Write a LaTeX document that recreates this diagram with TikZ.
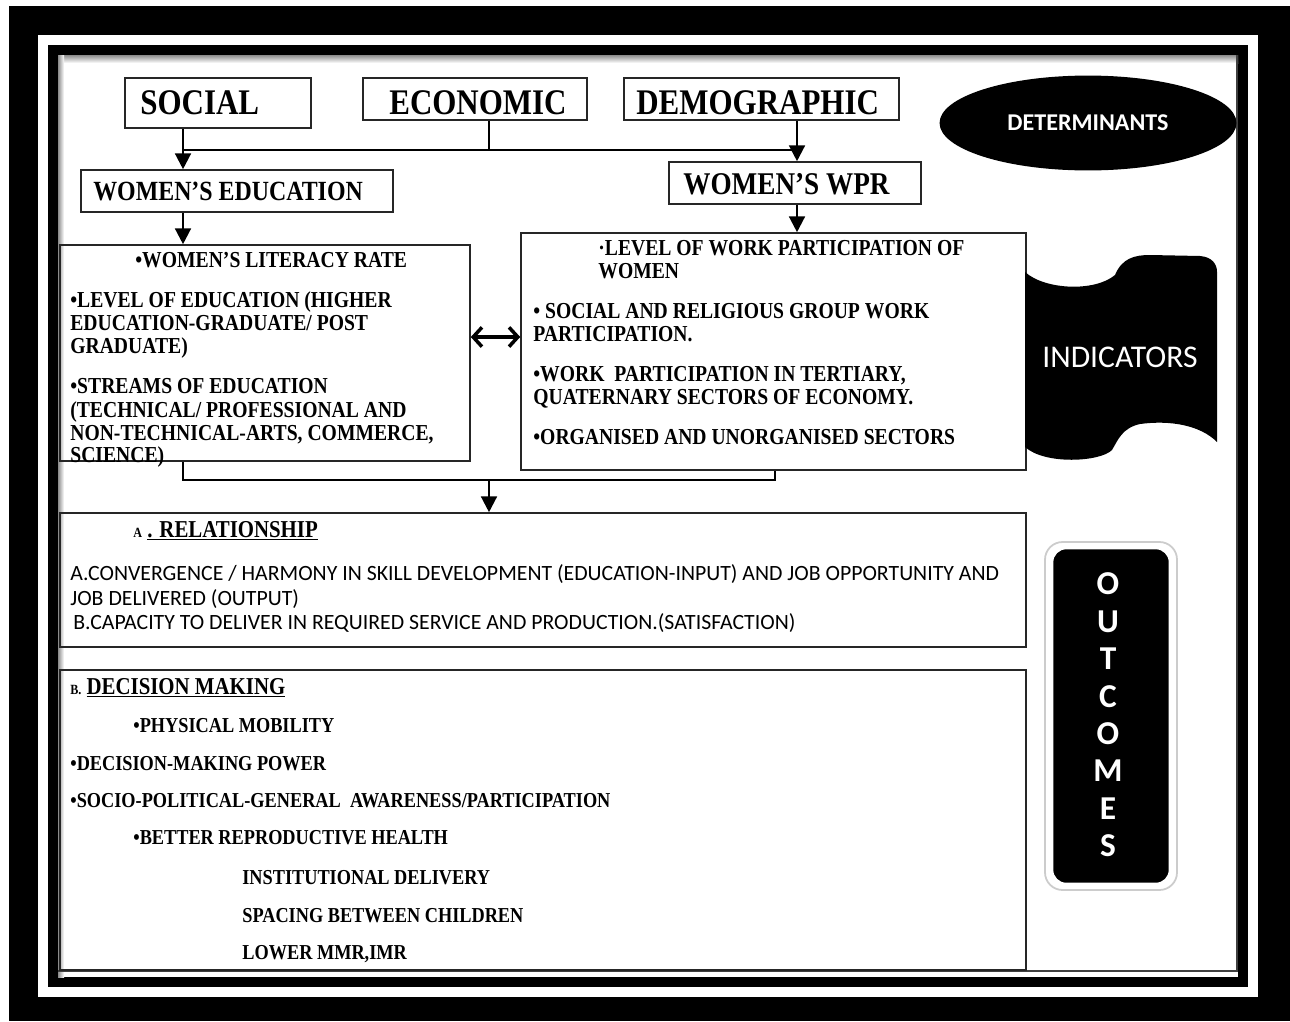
\documentclass[tikz,border=0pt]{standalone}
\usepackage{fontspec}
\setmainfont{Liberation Serif}[FakeStretch=0.86]
\newfontfamily\calib{Carlito}
\usetikzlibrary{arrows.meta,fit,positioning,shapes.geometric}

\tikzset{
  box/.style={draw=black!85, line width=0.9pt, inner sep=0pt},
  hd/.style={font=\bfseries\fontsize{20.5}{22}\selectfont, inner sep=0pt, anchor=base west},
  txt/.style={font=\bfseries\fontsize{13}{15}\selectfont, inner sep=0pt, anchor=base west},
  dtxt/.style={txt, font=\bfseries\fontsize{12.1}{14}\selectfont},
  sec/.style={font=\bfseries\fontsize{13.8}{15}\selectfont, inner sep=0pt, anchor=base west},
  sans/.style={font=\calib\fontsize{12.4}{14}\selectfont, inner sep=0pt, anchor=base west},
  oc/.style={font=\calib\bfseries\fontsize{19}{20}\selectfont, text=white, inner sep=0pt},
  conn/.style={line width=1.3pt},
  arr/.style={conn, -{Triangle[length=9pt,width=9pt]}},
  dbl/.style={line width=2pt, {Straight Barb[length=5pt,width=11pt]}-{Straight Barb[length=5pt,width=11pt]}},
}

\begin{document}
\begin{tikzpicture}[x=0.02cm, y=-0.02cm]

  % Frame
  \useasboundingbox (0,0) rectangle (1290,1021);
  \fill[black] (9,6) rectangle (1290,1021);
  \fill[white] (38,35) rectangle (1258,997);
  \fill[black] (48,45) rectangle (1248,987);
  \fill[white] (58,55) rectangle (1238,977);
  \shade[top color=black!45, bottom color=white] (58,55) rectangle (1238,63);
  \shade[left color=black!45, right color=white] (58,55) rectangle (64,977);
  \draw[black!75, line width=0.8pt] (58,971) -- (1237,971) -- (1237,55);

  % Determinants
  \node[box, fit={(125,78) (311,128)}] (social) {};
  \node[box, fit={(363,78) (587,120)}] (econ) {};
  \node[box, fit={(624,78) (899,120)}] (demo) {};
  \node[hd] (social-t) at (140,114) {SOCIAL};
  \node[hd] (econ-t)   at (389,114) {ECONOMIC};
  \node[hd] (demo-t)   at (636,114) {DEMOGRAPHIC};

  \node[ellipse, fill=black, minimum width=169pt, minimum height=54pt, inner sep=0pt,
        font=\calib\bfseries\fontsize{13.7}{15}\selectfont, text=white] (det) at (1088,123) {DETERMINANTS};

  % Women's education and WPR
  \node[box, fit={(81,170) (393,212)}] (we) {};
  \node[box, fit={(669,162) (921,204)}] (wpr) {};
  \node[hd, font=\bfseries\fontsize{15.8}{17}\selectfont] (we-t) at (93,200) {WOMEN’S EDUCATION};
  \node[hd, font=\bfseries\fontsize{18}{20}\selectfont] (wpr-t) at (683,194) {WOMEN’S WPR};

  % Indicators
  \node[box, fit={(60,245) (470,461)}] (lbox) {};
  \node[box, fit={(521,233) (1026,470)}] (rbox) {};

  \node[txt] (l1) at (135,267) {•WOMEN’S LITERACY RATE};
  \node[txt] (l2) at (70,307) {•LEVEL OF EDUCATION (HIGHER};
  \node[txt] (l3) at (70,330) {EDUCATION-GRADUATE/ POST};
  \node[txt] (l4) at (70,353) {GRADUATE)};
  \node[txt] (l5) at (70,393) {•STREAMS OF EDUCATION};
  \node[txt] (l6) at (70,417) {(TECHNICAL/ PROFESSIONAL AND};
  \node[txt] (l7) at (70,440) {NON-TECHNICAL-ARTS, COMMERCE,};
  \node[txt] (l8) at (70,462) {SCIENCE)};

  \node[txt] (r1) at (598,255) {·LEVEL OF WORK PARTICIPATION OF};
  \node[txt] (r2) at (598,278) {WOMEN};
  \node[txt] (r3) at (533,318) {• SOCIAL AND RELIGIOUS GROUP WORK};
  \node[txt] (r4) at (533,341) {PARTICIPATION.};
  \node[txt] (r5) at (533,381) {•WORK\ \ PARTICIPATION IN TERTIARY,};
  \node[txt] (r6) at (533,404) {QUATERNARY SECTORS OF ECONOMY.};
  \node[txt] (r7) at (533,444) {•ORGANISED AND UNORGANISED SECTORS};

  \fill[black] (1025,272) .. controls (1045,290) and (1095,292) .. (1115,275)
    .. controls (1122,258) and (1135,255) .. (1150,255) -- (1200,256)
    .. controls (1212,257) and (1217,264) .. (1217,272) -- (1217,442)
    .. controls (1200,425) and (1170,420) .. (1140,424)
    .. controls (1122,428) and (1118,440) .. (1112,450)
    .. controls (1100,462) and (1045,465) .. (1025,447) -- cycle;
  \node[font=\calib\fontsize{18}{20}\selectfont, text=white, inner sep=0pt] (ind) at (1120,357) {INDICATORS};

  % Outcomes
  \node[box, fit={(60,513) (1026,647)}] (rel) {};
  \node[box, fit={(60,670) (1026,970)}] (dec) {};

  \node[sec] (rel-t) at (133,537) {{\fontsize{8}{9}\selectfont A} \underline{. RELATIONSHIP}};
  \node[sans] (s1) at (70,580) {A.CONVERGENCE / HARMONY IN SKILL DEVELOPMENT (EDUCATION-INPUT) AND JOB OPPORTUNITY AND};
  \node[sans] (s2) at (70,605) {JOB DELIVERED (OUTPUT)};
  \node[sans] (s3) at (73,629) {B.CAPACITY TO DELIVER IN REQUIRED SERVICE AND PRODUCTION.(SATISFACTION)};

  \node[sec] (dec-t) at (70,694) {{\fontsize{8}{9}\selectfont B.} \underline{DECISION MAKING}};
  \node[dtxt] (d1) at (133,732) {•PHYSICAL MOBILITY};
  \node[dtxt] (d2) at (70,770) {•DECISION-MAKING POWER};
  \node[dtxt] (d3) at (70,807) {•SOCIO-POLITICAL-GENERAL\ \ AWARENESS/PARTICIPATION};
  \node[dtxt] (d4) at (133,844) {•BETTER REPRODUCTIVE HEALTH};
  \node[dtxt] (d5) at (242,884) {INSTITUTIONAL DELIVERY};
  \node[dtxt] (d6) at (242,922) {SPACING BETWEEN CHILDREN};
  \node[dtxt] (d7) at (242,959) {LOWER MMR,IMR};

  \draw[black!20, line width=1pt, rounded corners=10pt] (1045,542) rectangle (1177,890);
  \node[fit={(1052,548) (1170,884)}, fill=black, draw=white, line width=1.5pt,
        rounded corners=8pt, inner sep=0pt] (out) {};
  \foreach \l [count=\i from 0] in {O,U,T,C,O,M,E,S}
    \node[oc] (oc-\i) at (1108,584+37.4*\i) {\l};

  % Connectors
  \coordinate (jl) at (183,150);
  \coordinate (jm) at (489,150);
  \coordinate (jr) at (797,150);
  \coordinate (da) at (0,337);
  \coordinate (bl) at (183,480);
  \coordinate (bm) at (489,480);
  \coordinate (br) at (775,480);

  \draw[arr] (social.south -| jl) -- (we.north -| jl);
  \draw[conn] (econ.south -| jm) -- (jm);
  \draw[conn] (jl) -- (jr);
  \draw[arr] (demo.south -| jr) -- (wpr.north -| jr);
  \draw[arr] (we.south -| jl) -- (lbox.north -| jl);
  \draw[arr] (wpr.south -| jr) -- (rbox.north -| jr);
  \draw[dbl] (lbox.east |- da) -- (rbox.west |- da);
  \draw[conn] (lbox.south -| bl) -- (bl) -- (br) -- (rbox.south -| br);
  \draw[arr] (bm) -- (rel.north -| bm);

\end{tikzpicture}
\end{document}
